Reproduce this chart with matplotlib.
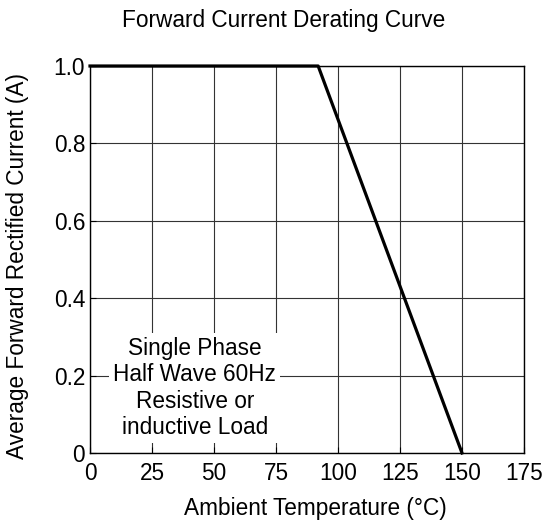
import matplotlib
matplotlib.use("Agg")
import matplotlib.pyplot as plt

temps = [0, 92, 150]
current = [1.0, 1.0, 0.0]
xticks = [0, 25, 50, 75, 100, 125, 150, 175]
yticks = [0, 0.2, 0.4, 0.6, 0.8, 1.0]
yticklabels = ["0", "0.2", "0.4", "0.6", "0.8", "1.0"]

plt.rcParams['font.family'] = ['Liberation Sans', 'DejaVu Sans']
FS = 16.3

fig = plt.figure(figsize=(5.44, 5.25), dpi=100)
ax = fig.add_axes([90/544, 1-453/525, 434/544, 387/525])
ax.set_xlim(0, 175)
ax.set_ylim(0, 1.0)
ax.set_xticks(xticks)
ax.set_xticklabels([str(t) for t in xticks], fontsize=FS)
ax.set_yticks(yticks)
ax.set_yticklabels(yticklabels, fontsize=FS)
ax.grid(True, color='#333333', linewidth=0.8)
ax.tick_params(axis='x', direction='in', length=4, width=0.8, pad=6.5)
ax.tick_params(axis='y', direction='in', length=4, width=0.8, pad=3.5)
for s in ax.spines.values():
    s.set_linewidth(1.0)
ax.plot(temps, current, color='black', linewidth=2.3, clip_on=False, zorder=5)

ax.text(42.3, 0.168, "Single Phase\nHalf Wave 60Hz\nResistive or\ninductive Load",
        ha='center', va='center', fontsize=FS, linespacing=1.2,
        bbox=dict(facecolor='white', edgecolor='none', pad=3), zorder=4)

fig.text(315/544, 1-515/525, "Ambient Temperature (°C)", ha='center', va='baseline', fontsize=FS)
fig.text(18/544, 1-266/525, "Average Forward Rectified Current (A)", ha='center', va='center',
         rotation=90, fontsize=FS)
fig.text(284/544, 1-27/525, "Forward Current Derating Curve", ha='center', va='baseline', fontsize=FS)

fig.savefig("out.png", dpi=100)
